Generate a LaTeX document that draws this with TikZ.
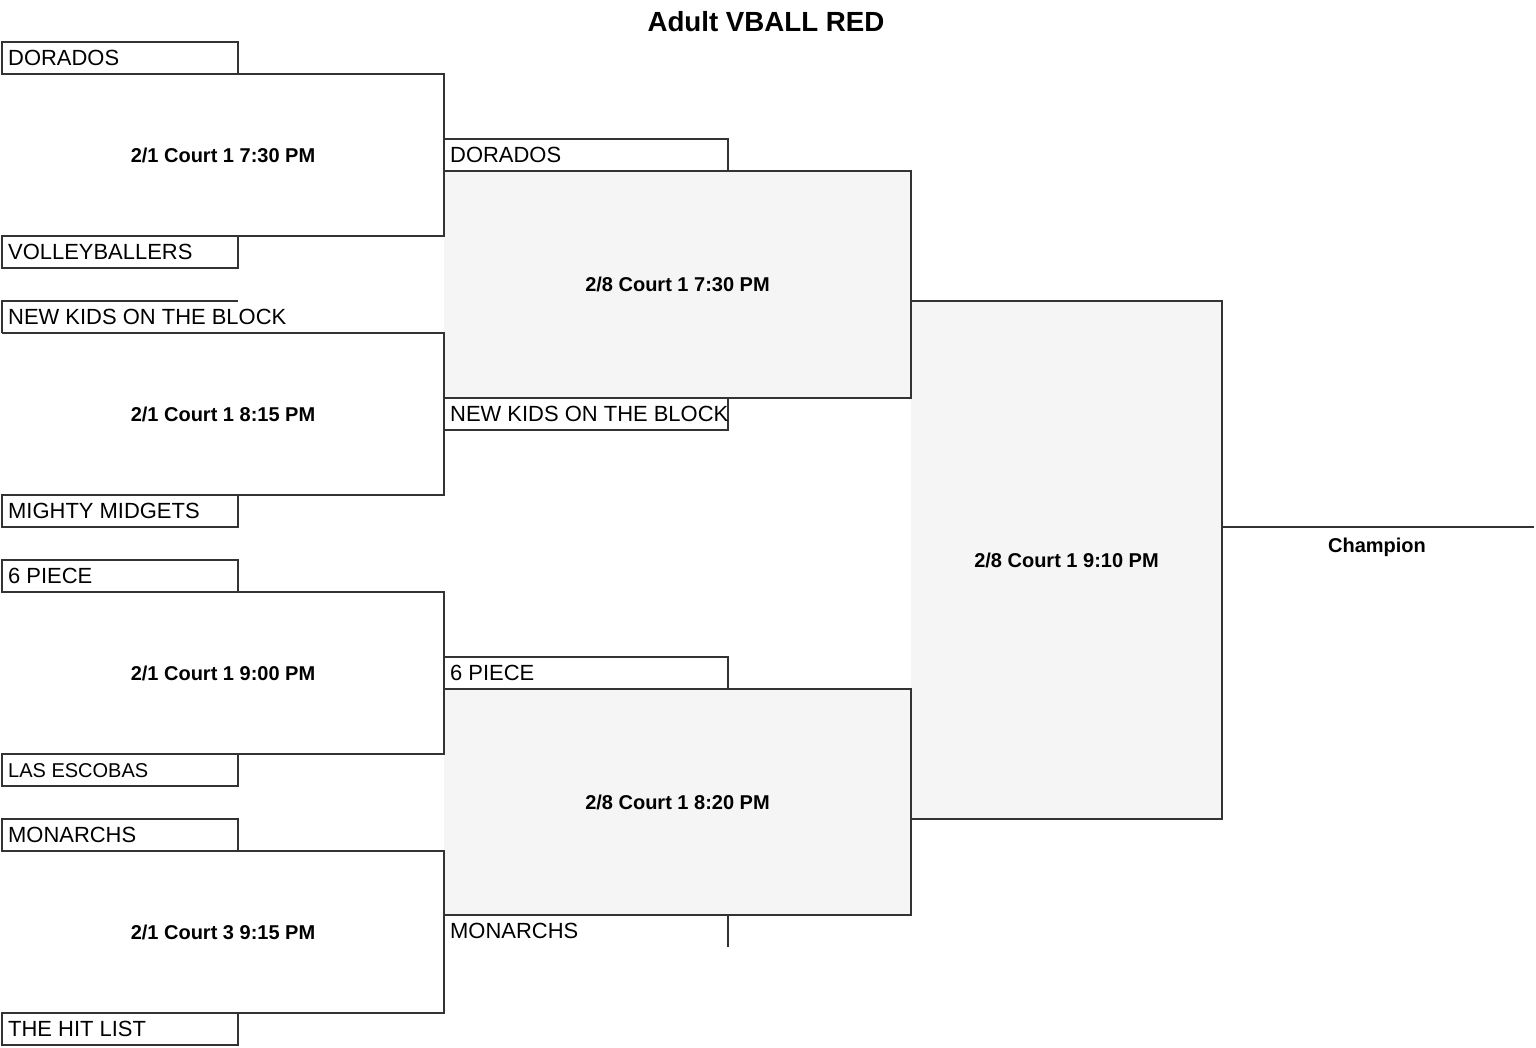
\documentclass[tikz,border=0pt]{standalone}
\usepackage{fontspec}
\setmainfont{Liberation Sans}
\definecolor{lncol}{HTML}{333333}
\definecolor{gfill}{HTML}{F5F5F5}
\begin{document}
\begin{tikzpicture}[x=1pt,y=-1pt,
  ln/.style={draw=lncol, line width=1.8pt, line join=miter},
  slot/.style={rectangle, inner sep=0pt, outer sep=0pt, anchor=north west, minimum width=#1, minimum height=32pt},
  slot/.default=236pt,
  teambox/.style={slot=#1, ln},
  teambox/.default=236pt,
  game/.style={rectangle, inner sep=0pt, outer sep=0pt, anchor=north west},
  teamtxt/.style={anchor=west, inner sep=0pt, text height=15.7pt, text depth=0pt, font=\fontsize{21.95}{26}\selectfont},
  smalltxt/.style={teamtxt, text height=14.3pt, font=\fontsize{20}{24}\selectfont},
  gamelbl/.style={inner sep=0pt, text height=14.3pt, text depth=0pt, font=\fontsize{20}{24}\selectfont\bfseries},
  titlelbl/.style={inner sep=0pt, text height=19.8pt, text depth=0pt, font=\fontsize{27.7}{32}\selectfont\bfseries}
]
\useasboundingbox (0,0) rectangle (1536,1048);
\fill[white] (0,0) rectangle (1536,1048);

% title
\node[titlelbl] (title) at (766,21.5) {Adult VBALL RED};

% ---- fills first ----
\node[game, fill=gfill, minimum width=467pt, minimum height=227pt] (sf1) at (444,171) {};
\node[game, fill=gfill, minimum width=467pt, minimum height=226pt] (sf2) at (444,689) {};
\node[game, fill=gfill, minimum width=311pt, minimum height=518pt] (fin) at (911,301) {};

% ---- round 1 games ----
\node[game, minimum width=442pt, minimum height=162pt] (g1) at (2,74) {};
\node[game, minimum width=442pt, minimum height=162pt] (g2) at (2,333) {};
\node[game, minimum width=442pt, minimum height=162pt] (g3) at (2,592) {};
\node[game, minimum width=442pt, minimum height=162pt] (g4) at (2,851) {};
\foreach \g in {g1,g2,g3,g4}{
  \draw[ln] (\g.north west) -- (\g.north east) -- (\g.south east) -- (\g.south west);
}
\node[gamelbl] (l1) at (g1.center) {2/1 Court 1 7:30 PM};
\node[gamelbl] (l2) at (g2.center) {2/1 Court 1 8:15 PM};
\node[gamelbl] (l3) at (g3.center) {2/1 Court 1 9:00 PM};
\node[gamelbl] (l4) at (g4.center) {2/1 Court 3 9:15 PM};

% ---- round 1 teams ----
\node[teambox] (b1) at (2,42) {};
\node[teamtxt] (n1) at ([xshift=6pt]b1.west) {DORADOS};
\node[teambox] (b2) at (2,236) {};
\node[teamtxt] (n2) at ([xshift=6pt]b2.west) {VOLLEYBALLERS};
\node[slot] (b3) at (2,301) {};
\draw[ln] (b3.north east) -- (b3.north west) -- (b3.south west);
\node[teamtxt] (n3) at ([xshift=6pt]b3.west) {NEW KIDS ON THE BLOCK};
\node[teambox] (b4) at (2,495) {};
\node[teamtxt] (n4) at ([xshift=6pt]b4.west) {MIGHTY MIDGETS};
\node[teambox] (b5) at (2,560) {};
\node[teamtxt] (n5) at ([xshift=6pt]b5.west) {6 PIECE};
\node[teambox] (b6) at (2,754) {};
\node[smalltxt] (n6) at ([xshift=6pt]b6.west) {LAS ESCOBAS};
\node[teambox] (b7) at (2,819) {};
\node[teamtxt] (n7) at ([xshift=6pt]b7.west) {MONARCHS};
\node[teambox] (b8) at (2,1013) {};
\node[teamtxt] (n8) at ([xshift=6pt]b8.west) {THE HIT LIST};

% ---- semifinals ----
\draw[ln] (sf1.north west) -- (sf1.north east) -- (sf1.south east) -- (sf1.south west);
\draw[ln] (sf2.north west) -- (sf2.north east) -- (sf2.south east) -- (sf2.south west);
\node[gamelbl] (l5) at (sf1.center) {2/8 Court 1 7:30 PM};
\node[gamelbl] (l6) at (sf2.center) {2/8 Court 1 8:20 PM};

\node[teambox=284pt] (s1) at (444,139) {};
\node[teamtxt] (sn1) at ([xshift=6pt]s1.west) {DORADOS};
\node[teambox=284pt] (s2) at (444,398) {};
\node[teamtxt] (sn2) at ([xshift=6pt]s2.west) {NEW KIDS ON THE BLOCK};
\node[teambox=284pt] (s3) at (444,657) {};
\node[teamtxt] (sn3) at ([xshift=6pt]s3.west) {6 PIECE};
\node[slot=284pt] (s4) at (444,915) {};
\draw[ln] (s4.north east) -- (s4.south east);
\node[teamtxt] (sn4) at ([xshift=6pt]s4.west) {MONARCHS};

% ---- final ----
\draw[ln] (fin.north west) -- (fin.north east) -- (fin.south east) -- (fin.south west);
\node[gamelbl] (l7) at (fin.center) {2/8 Court 1 9:10 PM};
\coordinate (champend) at (1534,527);
\coordinate (champstart) at (fin.east |- champend);
\draw[ln] (champstart) -- (champend);
\node[gamelbl] (champ) at (1377,545.5) {Champion};
\end{tikzpicture}
\end{document}
